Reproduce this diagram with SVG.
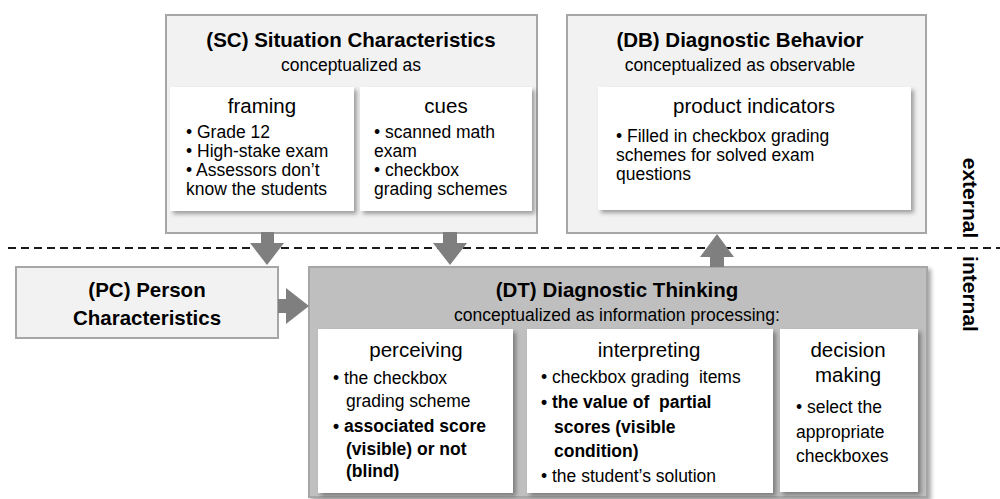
<svg xmlns="http://www.w3.org/2000/svg" width="1000" height="499" viewBox="0 0 1000 499">
<defs>
<filter id="sh" x="-10%" y="-10%" width="125%" height="125%">
<feDropShadow dx="3" dy="3" stdDeviation="2" flood-color="#000" flood-opacity="0.35"/>
</filter>
<style>
text{font-family:"Liberation Sans",Arial,sans-serif;fill:#000;white-space:pre}
.outer{fill:#f2f2f2;stroke:#a6a6a6;stroke-width:2}
.dt{fill:#bfbfbf;stroke:#a6a6a6;stroke-width:2}
.inner{fill:#fff;filter:url(#sh)}
.ttl{font-size:20.5px;font-weight:bold;text-anchor:middle}
.sub{font-size:17.5px;text-anchor:middle}
.hd{font-size:20.5px;text-anchor:middle}
.bd{font-size:17.5px}
.b{font-weight:bold}
.side{font-size:21px;font-weight:bold;text-anchor:middle}
.arr{fill:#7f7f7f}
</style>
</defs>
<rect width="1000" height="499" fill="#fff"/>
<line x1="8" y1="248" x2="1000" y2="248" stroke="#1a1a1a" stroke-width="2" stroke-dasharray="8 5"/>
<g id="SC">
<rect class="outer" x="166" y="15" width="371" height="218"/>
<text class="ttl" x="351" y="47">(SC) Situation Characteristics</text>
<text class="sub" x="351" y="71">conceptualized as</text>
<g id="framing">
<rect class="inner" x="170" y="87" width="184" height="124"/>
<text class="hd" x="262" y="113">framing</text>
<text class="bd" x="186" y="138">• Grade 12</text>
<text class="bd" x="186" y="157">• High-stake exam</text>
<text class="bd" x="186" y="176">• Assessors don’t</text>
<text class="bd" x="186" y="195">know the students</text>
</g>
<g id="cues">
<rect class="inner" x="360" y="87" width="172" height="124"/>
<text class="hd" x="446" y="113">cues</text>
<text class="bd" x="374" y="138">• scanned math</text>
<text class="bd" x="374" y="157">exam</text>
<text class="bd" x="374" y="176">• checkbox</text>
<text class="bd" x="374" y="195">grading schemes</text>
</g>
</g>
<g id="DB">
<rect class="outer" x="567" y="15" width="359" height="218"/>
<text class="ttl" x="740" y="47">(DB) Diagnostic Behavior</text>
<text class="sub" x="740" y="71">conceptualized as observable</text>
<g id="product">
<rect class="inner" x="598" y="87" width="313" height="123"/>
<text class="hd" x="754" y="113">product indicators</text>
<text class="bd" x="616" y="142">• Filled in checkbox grading</text>
<text class="bd" x="616" y="161">schemes for solved exam</text>
<text class="bd" x="616" y="180">questions</text>
</g>
</g>
<g id="PC">
<rect class="outer" x="16" y="267" width="262" height="71"/>
<text class="ttl" x="147" y="297">(PC) Person</text>
<text class="ttl" x="147" y="325">Characteristics</text>
</g>
<g id="DT">
<rect class="dt" x="309" y="267" width="618" height="230" filter="url(#sh)"/>
<text class="ttl" x="617" y="297">(DT) Diagnostic Thinking</text>
<text class="sub" x="617" y="321">conceptualized as information processing:</text>
<g id="perceiving">
<rect class="inner" x="318" y="329" width="195" height="164"/>
<text class="hd" x="416" y="357">perceiving</text>
<text class="bd" x="333" y="384">• the checkbox</text>
<text class="bd" x="346" y="407">grading scheme</text>
<text class="bd b" x="333" y="432">• associated score</text>
<text class="bd b" x="346" y="455">(visible) or not</text>
<text class="bd b" x="346" y="477">(blind)</text>
</g>
<g id="interpreting">
<rect class="inner" x="527" y="329" width="246" height="164"/>
<text class="hd" x="649" y="357">interpreting</text>
<text class="bd" x="541" y="383">• checkbox grading  items</text>
<text class="bd b" x="541" y="408">• the value of  partial</text>
<text class="bd b" x="554" y="433">scores (visible</text>
<text class="bd b" x="554" y="457">condition)</text>
<text class="bd" x="541" y="482">• the student’s solution</text>
</g>
<g id="decision">
<rect class="inner" x="780" y="329" width="138" height="163"/>
<text class="hd" x="848" y="357">decision</text>
<text class="hd" x="848" y="382">making</text>
<text class="bd" x="796" y="413">• select the</text>
<text class="bd" x="796" y="438">appropriate</text>
<text class="bd" x="796" y="462">checkboxes</text>
</g>
</g>
<g id="connectors">
<polygon class="arr" points="261,232 274,232 274,243 284,243 267,265 250,243 261,243"/>
<polygon class="arr" points="443,232 457,232 457,243 467,243 450,265 433,243 443,243"/>
<polygon class="arr" points="717,234 734,257 724,257 724,267 710,267 710,257 700,257"/>
<polygon class="arr" points="278,299 286,299 286,288 309,306 286,324 286,313 278,313"/>
</g>
<g id="labels">
<text class="side" transform="translate(963,198) rotate(90)">external</text>
<text class="side" transform="translate(963,294) rotate(90)">internal</text>
</g>
</svg>
